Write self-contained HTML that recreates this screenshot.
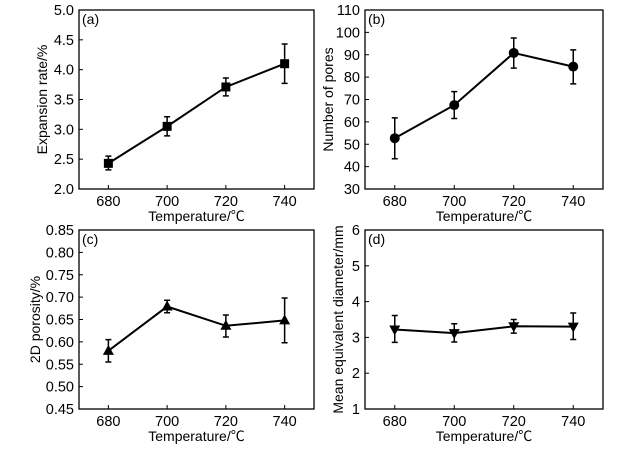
<!DOCTYPE html>
<html><head><meta charset="utf-8">
<style>
body{margin:0;background:#fff;}
svg{display:block;font-family:"Liberation Sans","Noto Sans CJK SC",sans-serif;}
</style></head>
<body>
<svg id="chart" width="640" height="449" viewBox="0 0 640 449"></svg>
<script>
const categories = [680, 700, 720, 740];
const expansionValues = [2.43, 3.05, 3.71, 4.10];
const expansionLow = [2.32, 2.89, 3.56, 3.77];
const expansionHigh = [2.55, 3.21, 3.86, 4.43];
const poresValues = [52.7, 67.5, 90.8, 84.7];
const poresLow = [43.5, 61.5, 84.0, 77.0];
const poresHigh = [61.8, 73.5, 97.5, 92.2];
const porosityValues = [0.580, 0.679, 0.636, 0.648];
const porosityLow = [0.555, 0.665, 0.611, 0.598];
const porosityHigh = [0.605, 0.693, 0.660, 0.698];
const diameterValues = [3.22, 3.12, 3.31, 3.30];
const diameterLow = [2.86, 2.87, 3.12, 2.94];
const diameterHigh = [3.61, 3.38, 3.50, 3.68];
const ticksA = ["2.0","2.5","3.0","3.5","4.0","4.5","5.0"];
const ticksB = ["30","40","50","60","70","80","90","100","110"];
const ticksC = ["0.45","0.50","0.55","0.60","0.65","0.70","0.75","0.80","0.85"];
const ticksD = ["1","2","3","4","5","6"];

const NS = "http://www.w3.org/2000/svg";
const svg = document.getElementById("chart");
function mk(tag, attrs, parent){
  const e = document.createElementNS(NS, tag);
  for (const k in attrs) e.setAttribute(k, attrs[k]);
  (parent||svg).appendChild(e);
  return e;
}
function panel(o){
  const g = mk("g", {});
  
  
  const yMin = parseFloat(o.ticks[0]), yMax = parseFloat(o.ticks[o.ticks.length-1]);
  const xs = v => o.L + (v - 670) / 80 * (o.R - o.L);
  const ys = v => o.B - (v - yMin) / (yMax - yMin) * (o.B - o.T);
  const frame = mk("rect", {x:o.L, y:o.T, width:o.R-o.L, height:o.B-o.T, fill:"none", stroke:"#000", "stroke-width":1.3}, g);
  
  
  o.ticks.forEach(t => {
    const y = ys(parseFloat(t));
    mk("line", {x1:o.L, x2:o.L+4, y1:y, y2:y, stroke:"#000", "stroke-width":1}, g);
    const tx = mk("text", {x:o.L-5, y:y+5, "text-anchor":"end", "font-size":14.5}, g);
    tx.textContent = t;
    
    
  });
  categories.forEach(c => {
    const x = xs(c);
    mk("line", {x1:x, x2:x, y1:o.B, y2:o.B-4, stroke:"#000", "stroke-width":1}, g);
    const tx = mk("text", {x:x, y:o.B+17, "text-anchor":"middle", "font-size":14.5}, g);
    tx.textContent = c;
    
    
  });
  const xt = mk("text", {x:(o.L+o.R)/2, y:o.B+32, "text-anchor":"middle", "font-size":14}, g);
  xt.textContent = "Temperature/\u2103";
  
  
  const yt = mk("text", {x:0, y:0, "text-anchor":"middle", "font-size":14, transform:`translate(${o.yx},${(o.T+o.B)/2}) rotate(-90)`}, g);
  yt.textContent = o.ytitle;
  
  
  const lb = mk("text", {x:o.L+3, y:o.T+14, "font-size":14}, g);
  lb.textContent = o.label;
  
  
  const pts = categories.map((c,i) => xs(c)+","+ys(o.vals[i])).join(" ");
  const line = mk("polyline", {points:pts, fill:"none", stroke:"#000", "stroke-width":2}, g);
  
  
  categories.forEach((c,i) => {
    const x = xs(c), y = ys(o.vals[i]), y1 = ys(o.lo[i]), y2 = ys(o.hi[i]);
    const eb = mk("path", {d:`M${x},${y1}V${y2}M${x-3},${y1}H${x+3}M${x-3},${y2}H${x+3}`, stroke:"#000", "stroke-width":1.5, fill:"none"}, g);
    
    
    let m;
    if (o.marker === "square") m = mk("rect", {x:x-4.5, y:y-4.5, width:9, height:9, fill:"#000"}, g);
    else if (o.marker === "circle") m = mk("circle", {cx:x, cy:y, r:5, fill:"#000"}, g);
    else if (o.marker === "up") m = mk("path", {d:`M${x},${y-6}L${x+5.5},${y+4}L${x-5.5},${y+4}Z`, fill:"#000"}, g);
    else m = mk("path", {d:`M${x},${y+6}L${x+5.5},${y-4}L${x-5.5},${y-4}Z`, fill:"#000"}, g);
    
    
  });
}
panel({name:"panel-a-expansion-rate", L:79, R:314, T:10, B:189, ticks:ticksA, vals:expansionValues, lo:expansionLow, hi:expansionHigh, marker:"square", label:"(a)", ytitle:"Expansion rate/%", yx:47});
panel({name:"panel-b-number-of-pores", L:365, R:603, T:10, B:189, ticks:ticksB, vals:poresValues, lo:poresLow, hi:poresHigh, marker:"circle", label:"(b)", ytitle:"Number of pores", yx:333});
panel({name:"panel-c-2d-porosity", L:79, R:314, T:230, B:409, ticks:ticksC, vals:porosityValues, lo:porosityLow, hi:porosityHigh, marker:"up", label:"(c)", ytitle:"2D porosity/%", yx:40});
panel({name:"panel-d-mean-diameter", L:365, R:603, T:230, B:409, ticks:ticksD, vals:diameterValues, lo:diameterLow, hi:diameterHigh, marker:"down", label:"(d)", ytitle:"Mean equivalent diameter/mm", yx:343});
</script>
</body></html>
